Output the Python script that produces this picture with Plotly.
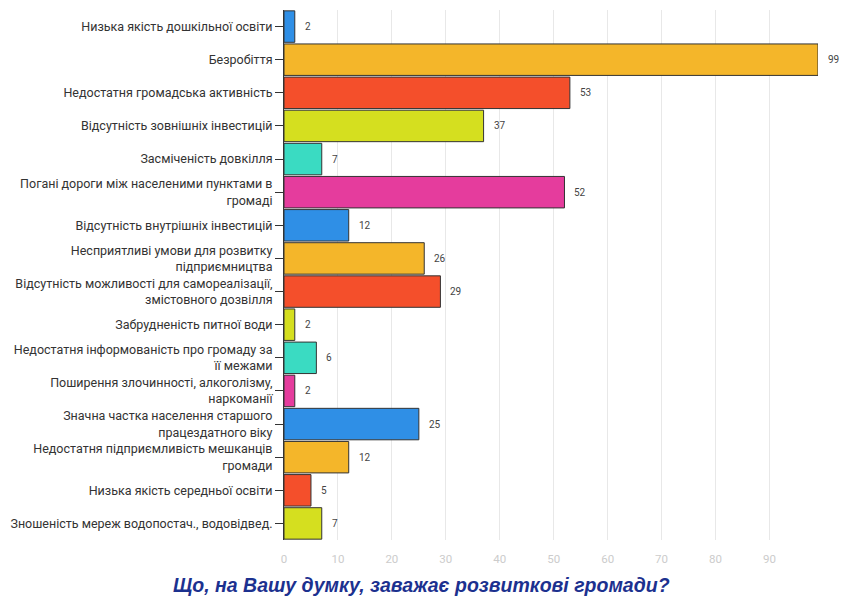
import plotly.graph_objects as go

categories = [
    "Низька якість дошкільної освіти",
    "Безробіття",
    "Недостатня громадська активність",
    "Відсутність зовнішніх інвестицій",
    "Засміченість довкілля",
    "Погані дороги між населеними пунктами в<br>громаді",
    "Відсутність внутрішніх інвестицій",
    "Несприятливі умови для розвитку<br>підприємництва",
    "Відсутність можливості для самореалізації,<br>змістовного дозвілля",
    "Забрудненість питної води",
    "Недостатня інформованість про громаду за<br>її межами",
    "Поширення злочинності, алкоголізму,<br>наркоманії",
    "Значна частка населення старшого<br>працездатного віку",
    "Недостатня підприємливість мешканців<br>громади",
    "Низька якість середньої освіти",
    "Зношеність мереж водопостач., водовідвед.",
]
values = [2, 99, 53, 37, 7, 52, 12, 26, 29, 2, 6, 2, 25, 12, 5, 7]

palette = ["#2f8fe6", "#f4b62a", "#f44f2b", "#d5df1f", "#3adbc2", "#e53c9d"]
colors = [palette[i % len(palette)] for i in range(len(values))]

fig = go.Figure(go.Bar(
    x=values, y=categories, orientation="h",
    marker=dict(color=colors, line=dict(color="#333333", width=1)),
    width=0.95,
))

# value labels to the right of each bar
for cat, v in zip(categories, values):
    fig.add_annotation(x=v, y=cat, text=str(v), showarrow=False,
                       xanchor="left", xshift=8,
                       font=dict(family="Roboto", size=10, color="#444444"))

fig.add_annotation(
    text="Що, на Вашу думку, заважає розвиткові громади?",
    xref="paper", yref="paper", x=0.257, y=-0.085, showarrow=False,
    xanchor="center", yanchor="middle",
    font=dict(family="Liberation Sans", size=19.5, color="#1c318f",
              weight="bold", style="italic"),
)

fig.update_yaxes(autorange="reversed", ticks="outside", ticklen=8, tickcolor="#333333",
                 showline=True, linecolor="#333333", linewidth=1,
                 tickfont=dict(family="Roboto", size=12.5, color="#333333"))
fig.update_xaxes(range=[0, 99], dtick=10, showgrid=True, gridcolor="#e8e8e8",
                 zeroline=False, ticks="outside", ticklen=8, tickcolor="rgba(0,0,0,0)",
                 tickfont=dict(family="Roboto", size=11.5, color="#cccccc"))

fig.update_layout(
    width=841, height=605,
    margin=dict(l=284, r=23, t=10, b=65, autoexpand=False),
    plot_bgcolor="white", paper_bgcolor="white",
    showlegend=False, bargap=0.05,
)

fig.write_html("out.html", config={"displayModeBar": False},
               post_script="document.body.style.margin='0';")
